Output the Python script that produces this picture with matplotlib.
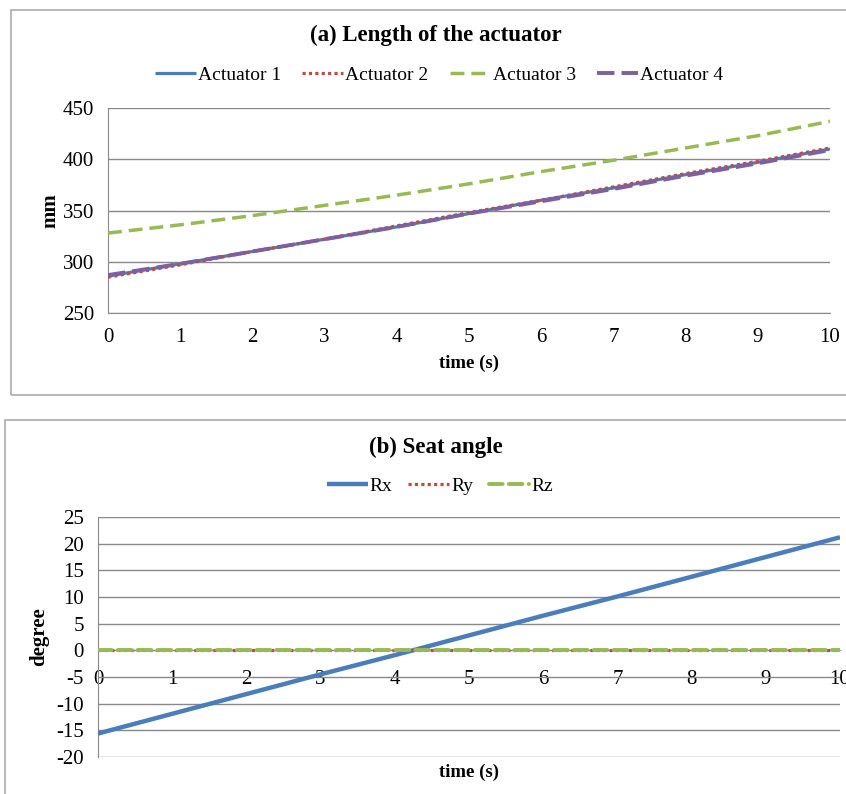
import matplotlib
matplotlib.use("Agg")
import matplotlib.pyplot as plt
from matplotlib.patches import Rectangle

plt.rcParams['font.family'] = ['Liberation Serif', 'DejaVu Serif']
plt.rcParams['axes.unicode_minus'] = False

# ---------------- data ----------------
time_s = [0, 1, 2, 3, 4, 5, 6, 7, 8, 9, 10]
actuator1 = [286, 298, 310, 322, 334, 347, 360, 372, 385, 397, 410]
actuator2 = [285, 297, 310, 322, 335, 348, 360, 373, 386, 398, 411]
actuator3 = [328, 336, 345, 355, 365, 376, 388, 399, 411, 423, 437]
actuator4 = [287, 298, 310, 322, 334, 347, 359, 371, 384, 396, 409]

rx = [-15.6, -11.9, -8.2, -4.5, -0.9, 2.8, 6.5, 10.1, 13.8, 17.5, 21.2]
ry = [0, 0, 0, 0, 0, 0, 0, 0, 0, 0, 0]
rz = [0, 0, 0, 0, 0, 0, 0, 0, 0, 0, 0]

len_ticks = [250, 300, 350, 400, 450]
ang_ticks = [-20, -15, -10, -5, 0, 5, 10, 15, 20, 25]

BLUE = '#4A7EBB'
RED = '#BE4B48'
GREEN = '#98B954'
PURPLE = '#7D60A0'
GRID = '#898989'
BOX = '#ABABAB'

W, H = 846, 794
fig = plt.figure(figsize=(W / 100, H / 100), dpi=100)


def fx(px):
    return px / W


def fy(py):
    return 1 - py / H


def px_axes(l, t, r, b):
    return fig.add_axes([fx(l), fy(b), fx(r - l), (b - t) / H])


# chart boxes
fig.patches.append(Rectangle((fx(11), fy(395)), fx(880 - 11), (395 - 10) / H,
                             transform=fig.transFigure, fill=False,
                             edgecolor=BOX, linewidth=1.2))
fig.patches.append(Rectangle((fx(5), fy(820)), fx(880 - 5), (820 - 420) / H,
                             transform=fig.transFigure, fill=False,
                             edgecolor=BOX, linewidth=1.2))

TICK_FS = 15
LEG_FS = 14
TITLE_FS = 16.5
LAB_FS = 13.5

# ---------------- chart (a) ----------------
ax1 = px_axes(108, 108, 830, 313)
ax1.plot(time_s, actuator1, color=BLUE, lw=2.3, solid_capstyle='butt', label='Actuator 1', zorder=3)
ax1.plot(time_s, actuator2, color=RED, lw=2.3, linestyle=(0, (1, 1)), label='Actuator 2', zorder=4)
ax1.plot(time_s, actuator3, color=GREEN, lw=2.5, linestyle=(0, (4, 2)), label='Actuator 3', zorder=4)
ax1.plot(time_s, actuator4, color=PURPLE, lw=2.8, linestyle=(0, (4.5, 1.8)), label='Actuator 4', zorder=5)
ax1.set_xlim(0, 10)
ax1.set_ylim(250, 450)
ax1.set_yticks(len_ticks)
ax1.set_xticks(time_s)
ax1.grid(axis='y', color=GRID, lw=1)
ax1.set_axisbelow(True)
for s in ['top', 'right']:
    ax1.spines[s].set_visible(False)
for s in ['left', 'bottom']:
    ax1.spines[s].set_color(GRID)
ax1.tick_params(length=0, labelsize=TICK_FS)
ax1.tick_params(axis='x', pad=11)
ax1.tick_params(axis='y', pad=10)
ax1.set_xlabel('time (s)', fontsize=LAB_FS, fontweight='bold', labelpad=5)
ax1.set_ylabel('mm', fontsize=15, fontweight='bold', labelpad=2)
fig.text(fx(436), fy(35), '(a) Length of the actuator', ha='center', va='center',
         fontsize=TITLE_FS, fontweight='bold')
fig.legend(handles=ax1.get_lines(), loc='center', bbox_to_anchor=(fx(439), fy(75)),
           ncol=4, frameon=False, fontsize=LEG_FS, handlelength=2.1,
           handletextpad=0.1, columnspacing=1.1)

# ---------------- chart (b) ----------------
ax2 = px_axes(98, 517, 840, 757)
ax2.plot(time_s, rx, color=BLUE, lw=3.2, solid_capstyle='butt', label='Rx', zorder=3)
ax2.plot(time_s, ry, color=RED, lw=2.3, linestyle=(0, (1, 1)), label='Ry', zorder=4)
ax2.plot(time_s, rz, color=GREEN, lw=2.8, linestyle=(0, (3.5, 1.6)), dash_capstyle='round',
         label='Rz', zorder=5)
ax2.set_xlim(0, 10)
ax2.set_ylim(-20, 25)
ax2.set_yticks(ang_ticks)
ax2.set_xticks(time_s)
ax2.grid(axis='y', color=GRID, lw=1)
ax2.set_axisbelow(True)
for s in ['top', 'right']:
    ax2.spines[s].set_visible(False)
ax2.spines['left'].set_color(GRID)
ax2.spines['bottom'].set_color(GRID)
ax2.spines['bottom'].set_position(('data', 0))
ax2.tick_params(length=0, labelsize=TICK_FS)
ax2.tick_params(axis='x', pad=14)
ax2.tick_params(axis='y', pad=10)
ax2.set_ylabel('degree', fontsize=15, fontweight='bold', labelpad=5)
fig.text(fx(469), fy(772), 'time (s)', ha='center', va='center',
         fontsize=LAB_FS, fontweight='bold')
fig.text(fx(436), fy(447), '(b) Seat angle', ha='center', va='center',
         fontsize=TITLE_FS, fontweight='bold')
fig.legend(handles=ax2.get_lines(), loc='center', bbox_to_anchor=(fx(440), fy(486)),
           ncol=3, frameon=False, fontsize=LEG_FS, handlelength=2.1,
           handletextpad=0.1, columnspacing=0.8)

fig.savefig('out.png', dpi=100)
